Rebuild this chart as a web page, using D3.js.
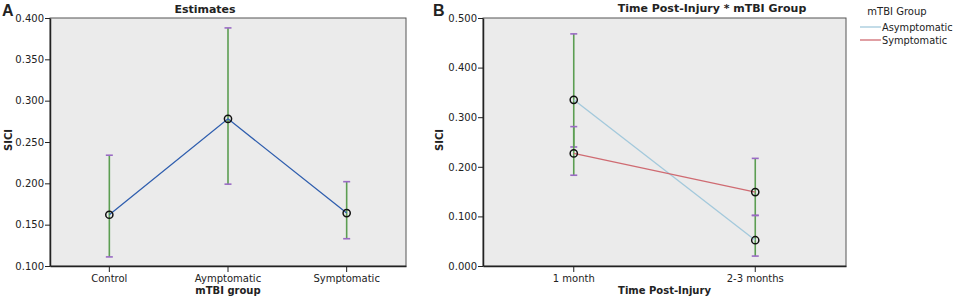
<!DOCTYPE html>
<html>
<head>
<meta charset="utf-8">
<script src="https://cdn.jsdelivr.net/npm/d3@7"></script>
<style>
    body { margin: 0; background: #fff; }
    text { font-family: 'DejaVu Sans', sans-serif; fill: #222; }
    .axis text { font-size: 10px; }
    .axis path, .axis line { stroke: #222; }
    .title { font-size: 11px; font-weight: bold; }
    .axis-title { font-size: 10px; font-weight: bold; }
    .panel-label { font-size: 16px; font-weight: bold; font-family: 'Liberation Sans', sans-serif; }
</style>
</head>
<body>
<svg id="chart" width="957" height="299"></svg>
<script>
/**
 * Data.
 */
// Panel A - estimates by mTBI group
const groupsA = ['Control', 'Aymptomatic', 'Symptomatic'];
const meanA = [0.162, 0.278, 0.164];
const lowA = [0.111, 0.199, 0.133];
const highA = [0.234, 0.388, 0.202];
const ticksA = [0.100, 0.150, 0.200, 0.250, 0.300, 0.350, 0.400];

// Panel B - time post-injury * mTBI group
const timesB = ['1 month', '2-3 months'];
const seriesB = ['Asymptomatic', 'Symptomatic'];
const asymMean = [0.335, 0.052],
    asymLow = [0.240, 0.020],
    asymHigh = [0.468, 0.102];
const sympMean = [0.227, 0.149],
    sympLow = [0.183, 0.102],
    sympHigh = [0.281, 0.217];
const ticksB = [0.0, 0.1, 0.2, 0.3, 0.4, 0.5];

/**
 * Visual configs.
 */
const plotBg = '#ebebeb',
    barColor = '#5c9e52',
    capColor = '#9a6bc4',
    lineA = '#2f5eae',
    seriesColors = ['#a3c9dc', '#cf6b72'],
    capWidth = 7,
    markerRadius = 3.6;

const svg = d3.select('#chart');
const fmt = d3.format('.3f');

/**
 * Draws one panel frame with axes and returns the scales.
 */
function drawFrame(g, box, categories, domain, ticks) {
    const x = d3.scaleBand().domain(categories).range([box.left, box.right]);
    const y = d3.scaleLinear().domain(domain).range([box.bottom, box.top]);

    g.append('rect')
        .attr('x', box.left).attr('y', box.top)
        .attr('width', box.right - box.left).attr('height', box.bottom - box.top)
        .attr('fill', plotBg).attr('stroke', '#555').attr('stroke-width', 1);

    g.append('g').attr('class', 'axis y')
        .attr('transform', 'translate(' + box.left + ',0)')
        .call(d3.axisLeft(y).tickValues(ticks).tickFormat(fmt).tickSize(5).tickSizeOuter(0).tickPadding(1))
        .select('.domain').attr('stroke-width', 1.5);

    g.append('g').attr('class', 'axis x')
        .attr('transform', 'translate(0,' + box.bottom + ')')
        .call(d3.axisBottom(x).tickSize(6).tickSizeOuter(0).tickPadding(3))
        .select('.domain').attr('stroke-width', 1.5);

    return { x, y };
}

/**
 * Error bars (green stem with purple caps).
 */
function drawBars(g, s, categories, low, high) {
    const cx = c => s.x(c) + s.x.bandwidth() / 2;
    const bars = g.append('g').selectAll('g').data(categories).join('g');
    bars.append('line')
        .attr('x1', cx).attr('x2', cx)
        .attr('y1', (d, i) => s.y(low[i])).attr('y2', (d, i) => s.y(high[i]))
        .attr('stroke', barColor).attr('stroke-width', 1.6);
    [low, high].forEach(v => {
        bars.append('line')
            .attr('x1', d => cx(d) - capWidth / 2).attr('x2', d => cx(d) + capWidth / 2)
            .attr('y1', (d, i) => s.y(v[i])).attr('y2', (d, i) => s.y(v[i]))
            .attr('stroke', capColor).attr('stroke-width', 1.6);
    });
}

function drawMarkers(g, s, categories, mean) {
    const cx = c => s.x(c) + s.x.bandwidth() / 2;
    g.append('g').selectAll('circle').data(categories).join('circle')
        .attr('cx', cx).attr('cy', (d, i) => s.y(mean[i]))
        .attr('r', markerRadius)
        .attr('fill', 'none').attr('stroke', '#111').attr('stroke-width', 1.5);
}

function drawLine(g, s, categories, mean, color) {
    const cx = c => s.x(c) + s.x.bandwidth() / 2;
    g.append('path')
        .datum(categories)
        .attr('fill', 'none').attr('stroke', color).attr('stroke-width', 1.3)
        .attr('d', d3.line().x(cx).y((d, i) => s.y(mean[i])));
}

/**
 * Panel A.
 */
const gA = svg.append('g');
const boxA = { left: 50, right: 406, top: 18, bottom: 266 };
const sA = drawFrame(gA, boxA, groupsA, [0.1, 0.4], ticksA);
drawBars(gA, sA, groupsA, lowA, highA);
drawLine(gA, sA, groupsA, meanA, lineA);
drawMarkers(gA, sA, groupsA, meanA);

gA.append('text').attr('class', 'title').attr('x', 205).attr('y', 13)
    .attr('text-anchor', 'middle').text('Estimates');
gA.append('text').attr('class', 'axis-title').attr('x', (boxA.left + boxA.right) / 2).attr('y', 294)
    .attr('text-anchor', 'middle').text('mTBI group');
gA.append('text').attr('class', 'axis-title')
    .attr('transform', 'translate(12,140) rotate(-90)')
    .attr('text-anchor', 'middle').text('SICI');
gA.append('text').attr('class', 'panel-label').attr('x', 2).attr('y', 16).text('A');

/**
 * Panel B.
 */
const gB = svg.append('g');
const boxB = { left: 483, right: 846, top: 18, bottom: 266 };
const sB = drawFrame(gB, boxB, timesB, [0, 0.5], ticksB);
drawBars(gB, sB, timesB, asymLow, asymHigh);
drawBars(gB, sB, timesB, sympLow, sympHigh);
drawLine(gB, sB, timesB, asymMean, seriesColors[0]);
drawLine(gB, sB, timesB, sympMean, seriesColors[1]);
drawMarkers(gB, sB, timesB, asymMean);
drawMarkers(gB, sB, timesB, sympMean);

gB.append('text').attr('class', 'title').attr('x', 712).attr('y', 12)
    .attr('text-anchor', 'middle').text('Time Post-Injury * mTBI Group');
gB.append('text').attr('class', 'axis-title').attr('x', (boxB.left + boxB.right) / 2).attr('y', 294)
    .attr('text-anchor', 'middle').text('Time Post-Injury');
gB.append('text').attr('class', 'axis-title')
    .attr('transform', 'translate(443,140) rotate(-90)')
    .attr('text-anchor', 'middle').text('SICI');
gB.append('text').attr('class', 'panel-label').attr('x', 433).attr('y', 16).text('B');

// Legend
const legend = gB.append('g');
legend.append('text').attr('x', 897).attr('y', 15).attr('text-anchor', 'middle')
    .style('font-size', '10px').text('mTBI Group');
seriesB.forEach((name, i) => {
    const ly = 27 + i * 13;
    legend.append('line').attr('x1', 860).attr('x2', 881).attr('y1', ly).attr('y2', ly)
        .attr('stroke', seriesColors[i]).attr('stroke-width', 1.3);
    legend.append('text').attr('x', 882).attr('y', ly + 4)
        .style('font-size', '9.8px').text(name);
});
</script>
</body>
</html>
